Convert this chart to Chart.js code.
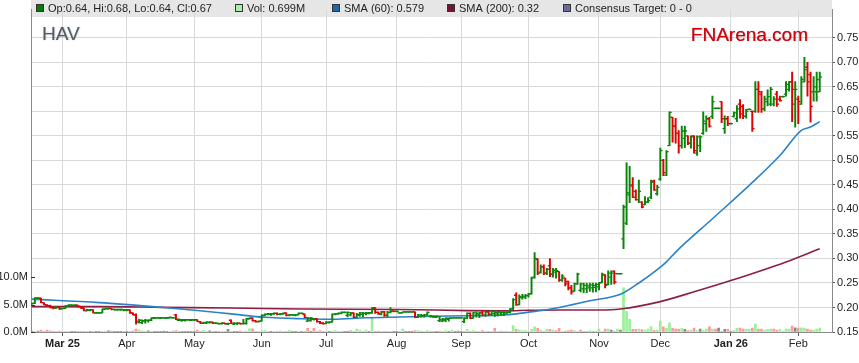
<!DOCTYPE html>
<html><head><meta charset="utf-8">
<script src="https://cdn.jsdelivr.net/npm/chart.js@4.4.1/dist/chart.umd.min.js"></script>
<style>html,body{margin:0;padding:0;background:#fff;}</style>
</head><body>
<canvas id="c" width="859" height="363" style="display:block;width:859px;height:363px"></canvas>
<script>
// ---------- DATA ----------
const ticker = 'HAV';
const firstTradingDay = '2025-02-17';   // bars are consecutive weekdays from here
const monthTickLabels = ['Mar 25','Apr','May','Jun','Jul','Aug','Sep','Oct','Nov','Dec','Jan 26','Feb'];

const opens = [
.208,.209,.219,.219,.210,.205,.204,.200,.199,.201,
.197,.198,.203,.205,.204,.205,.202,.199,.193,.194,
.195,.189,.189,.189,.196,.197,.198,.196,.195,.195,
.195,.194,.195,.189,.185,.170,.169,.172,.173,.174,
.178,.179,.178,.179,.178,.179,.179,.185,.174,.173,
.174,.175,.174,.175,.175,.171,.168,.168,.169,.170,
.168,.167,.167,.168,.166,.174,.166,.167,.168,.167,
.167,.177,.178,.173,.171,.172,.184,.186,.186,.187,
.188,.186,.187,.189,.184,.185,.184,.185,.188,.186,
.172,.173,.176,.177,.171,.168,.167,.169,.170,.186,
.187,.188,.190,.184,.185,.189,.180,.184,.186,.188,
.188,.189,.199,.190,.186,.191,.184,.190,.193,.192,
.189,.189,.191,.191,.191,.191,.180,.182,.183,.185,
.182,.181,.180,.173,.172,.174,.176,.178,.179,.179,
.179,.171,.178,.188,.178,.184,.185,.189,.184,.191,
.186,.188,.187,.189,.186,.189,.190,.197,.225,.206,
.220,.221,.224,.228,.262,.298,.272,.283,.270,.285,
.268,.272,.273,.256,.260,.253,.240,.234,.248,.235,
.238,.238,.240,.240,.241,.242,.251,.266,.247,.262,
.274,.269,.269,.340,.372,.430,.448,.437,.420,.415,
.410,.415,.425,.458,.432,.462,.500,.470,.530,.588,
.570,.555,.530,.545,.550,.535,.550,.515,.530,.555,
.575,.585,.590,.606,.606,.620,.565,.585,.575,.590,
.585,.615,.610,.590,.604,.600,.600,.645,.635,.605,
.620,.615,.615,.635,.625,.630,.635,.645,.660,.615,
.625,.615,.660,.690,.675,.640,.640,.640];
const highs = [
.209,.220,.220,.219,.210,.206,.205,.200,.202,.201,
.199,.204,.206,.206,.206,.205,.202,.199,.196,.196,
.195,.190,.190,.197,.199,.199,.198,.197,.197,.197,
.196,.196,.195,.189,.187,.176,.175,.176,.175,.179,
.180,.180,.180,.180,.180,.181,.180,.186,.177,.176,
.176,.176,.176,.176,.175,.172,.170,.171,.171,.170,
.169,.168,.169,.168,.168,.175,.169,.169,.168,.176,
.178,.179,.179,.174,.173,.185,.187,.188,.188,.189,
.189,.188,.189,.189,.186,.186,.186,.189,.189,.187,
.180,.180,.178,.177,.172,.169,.171,.171,.187,.188,
.189,.191,.191,.191,.190,.189,.188,.190,.190,.190,
.190,.200,.200,.191,.192,.192,.192,.200,.193,.193,
.189,.191,.191,.191,.191,.191,.186,.186,.186,.191,
.184,.183,.183,.182,.178,.179,.179,.179,.179,.179,
.179,.179,.189,.189,.190,.191,.190,.193,.192,.192,
.193,.193,.192,.191,.191,.191,.198,.218,.230,.226,
.227,.227,.229,.262,.312,.300,.287,.287,.280,.300,
.280,.280,.273,.267,.260,.254,.245,.250,.270,.250,
.250,.250,.250,.250,.250,.251,.270,.267,.275,.275,
.275,.269,.269,.409,.495,.488,.465,.440,.460,.416,
.426,.424,.460,.460,.449,.525,.502,.520,.599,.588,
.586,.561,.570,.570,.550,.550,.550,.550,.550,.599,
.591,.588,.631,.607,.607,.620,.591,.590,.576,.599,
.612,.624,.614,.604,.605,.601,.661,.661,.641,.631,
.644,.649,.630,.641,.631,.631,.661,.661,.680,.661,
.631,.671,.710,.700,.680,.671,.680,.680];
const lows = [
.207,.208,.218,.210,.205,.203,.199,.197,.198,.196,
.197,.198,.202,.204,.203,.201,.198,.193,.193,.193,
.189,.188,.188,.189,.196,.196,.195,.194,.194,.194,
.193,.193,.188,.185,.166,.168,.167,.168,.170,.173,
.177,.178,.177,.178,.177,.178,.178,.175,.173,.172,
.172,.174,.173,.173,.171,.167,.167,.167,.168,.167,
.167,.166,.166,.166,.165,.167,.165,.165,.166,.166,
.166,.176,.172,.170,.170,.172,.183,.185,.184,.186,
.185,.185,.186,.183,.183,.184,.183,.185,.187,.179,
.171,.172,.174,.170,.167,.166,.167,.168,.170,.185,
.186,.187,.189,.181,.183,.179,.179,.182,.181,.185,
.187,.188,.188,.186,.185,.182,.181,.189,.191,.191,
.188,.189,.190,.190,.190,.179,.179,.180,.180,.184,
.180,.179,.179,.171,.171,.171,.172,.178,.178,.178,
.178,.169,.177,.177,.178,.180,.179,.183,.182,.184,
.184,.182,.183,.184,.184,.188,.189,.195,.204,.205,
.217,.218,.221,.227,.260,.267,.270,.267,.267,.263,
.262,.260,.253,.253,.244,.236,.227,.233,.247,.232,
.230,.230,.233,.231,.232,.236,.250,.240,.246,.247,
.248,.268,.268,.320,.369,.414,.424,.419,.414,.403,
.409,.414,.422,.439,.429,.459,.469,.469,.530,.537,
.535,.515,.525,.526,.532,.525,.515,.510,.518,.553,
.559,.568,.585,.605,.605,.577,.555,.571,.574,.588,
.579,.586,.585,.586,.603,.559,.598,.598,.598,.601,
.611,.611,.611,.610,.621,.629,.631,.641,.579,.568,
.575,.614,.660,.631,.578,.621,.621,.640];
const closes = [
.208,.219,.219,.210,.206,.204,.200,.199,.201,.197,
.198,.203,.205,.205,.205,.202,.199,.194,.195,.195,
.189,.189,.189,.197,.198,.198,.196,.196,.196,.196,
.195,.195,.189,.185,.172,.174,.173,.174,.174,.179,
.179,.179,.179,.179,.179,.180,.179,.176,.175,.175,
.175,.175,.175,.175,.171,.168,.169,.170,.170,.168,
.168,.167,.168,.167,.167,.168,.168,.168,.167,.168,
.177,.178,.173,.171,.172,.184,.186,.187,.187,.188,
.186,.187,.188,.184,.185,.185,.185,.188,.188,.180,
.178,.178,.177,.171,.168,.167,.170,.170,.186,.187,
.188,.190,.190,.190,.188,.180,.186,.189,.188,.189,
.189,.199,.190,.188,.191,.184,.190,.192,.192,.192,
.189,.191,.191,.191,.191,.180,.185,.184,.185,.190,
.183,.182,.182,.175,.176,.178,.178,.179,.179,.179,
.179,.178,.188,.178,.189,.188,.189,.184,.191,.186,
.192,.190,.191,.190,.189,.190,.197,.216,.206,.222,
.223,.224,.228,.260,.300,.270,.283,.270,.278,.268,
.276,.275,.256,.264,.248,.240,.232,.248,.268,.248,
.245,.244,.246,.245,.247,.250,.268,.245,.270,.270,
.252,.269,.269,.405,.434,.450,.425,.420,.437,.405,
.415,.418,.455,.440,.445,.520,.475,.518,.598,.570,
.555,.530,.560,.560,.535,.548,.520,.548,.548,.580,
.585,.570,.620,.606,.606,.585,.585,.575,.575,.597,
.605,.595,.590,.600,.604,.565,.645,.640,.605,.625,
.630,.645,.625,.615,.622,.630,.655,.660,.645,.645,
.620,.665,.685,.660,.610,.650,.665,.670];
const volumesM = [
.15,.10,.18,.36,.10,.36,.20,.10,.08,.18,
.10,.12,.08,.10,.06,.10,.12,.10,.08,.06,
.10,.08,.06,.12,.18,.20,.18,.08,.10,.06,
.08,.10,.12,.20,.54,.40,.15,.12,.20,.10,
.08,.10,.06,.18,.10,.08,.18,.25,.10,.08,
.06,.10,.08,.10,.36,.12,.30,.08,.20,.10,
.08,.06,.10,.12,.48,.15,.10,.08,.20,.10,
.15,.60,.60,.12,.10,.20,.25,.10,.12,.08,
.10,.20,.10,.08,.30,.10,.08,.18,.10,.10,
.65,.10,.65,.10,.24,.10,.08,.10,.18,.24,
.10,.08,.12,.10,.24,.10,.54,.36,.10,.36,
.10,2.60,.10,.18,.08,.10,.18,.12,.10,.08,
.10,.54,.10,.08,.10,.24,.24,.10,.08,.24,
.10,.08,.10,.18,.10,.24,.10,.36,.10,.18,
.08,.10,.48,.10,.24,.10,.10,.24,.10,.08,
.10,.65,.10,.18,.10,.18,.10,1.19,.48,.36,
.24,.24,.10,.48,.95,.65,.36,.10,.48,.48,
.36,.24,.65,.10,.18,.24,.36,.24,.10,.36,
.10,.10,.24,.10,.18,.54,.10,.54,.54,.36,
.10,.54,.36,8.10,3.80,2.30,.50,.50,.54,.42,
.36,.54,.95,.30,.36,2.00,.95,.65,1.66,.65,
.54,.54,.65,.48,.24,.36,.71,.24,.54,.24,
.54,.95,.54,.54,.71,.10,.48,.48,.05,.24,
.65,.71,.54,.48,.48,.71,1.43,.54,.54,.36,
.48,.54,.54,.36,.48,.10,.54,.54,1.07,.77,
.71,.77,.71,.54,.36,.36,.54,.699];
// SMA lines read at sample bars (bar index -> value)
const sma60Bars = [0,22,43,54,65,76,88,98,109,120,131,142,153,158,164,172,182,192,198,204,207,210,222,234,244,251,254,257];
const sma60Vals = [.217,.210,.200,.194,.187,.180,.177,.176,.179,.1805,.182,.183,.1845,.187,.192,.200,.2137,.227,.250,.277,.293,.313,.381,.449,.510,.5614,.568,.579];
const sma200Bars = [0,22,43,65,88,120,142,155,162,172,185,192,205,216,228,246,257];
const sma200Vals = [.2017,.2017,.2003,.199,.197,.196,.1937,.193,.1945,.195,.195,.197,.212,.232,.255,.293,.320];

// ---------- DERIVED ----------
const FONT = '"Liberation Sans", Arial, Helvetica, sans-serif';
const dates = [];
{ const d = new Date(firstTradingDay + 'T00:00:00Z');
  while (dates.length < opens.length) { const w = d.getUTCDay(); if (w !== 0 && w !== 6) dates.push(new Date(d)); d.setUTCDate(d.getUTCDate() + 1); } }
const monthTickIdx = [];
for (let i = 1; i < dates.length; i++) if (dates[i].getUTCMonth() !== dates[i-1].getUTCMonth()) monthTickIdx.push(i);

const UP = '#0a850a', DOWN = '#e00000';
const barCol = opens.map((o,i) => closes[i] >= o ? UP : DOWN);
const volCol = closes.map((c,i) => i === 0 ? '#999999' : (c > closes[i-1] ? '#99f099' : (c < closes[i-1] ? '#ff9a9a' : '#8a8a8a')));
const last = opens.length - 1;

const overlay = {
  id: 'overlay',
  beforeDraw(chart) {
    const ctx = chart.ctx, a = chart.chartArea;
    ctx.save(); ctx.fillStyle = '#e6e6e6'; ctx.fillRect(a.left, 0, a.right - a.left, 17); ctx.restore();
  },
  afterDatasetsDraw(chart) {
    const ctx = chart.ctx, xs = chart.scales.x, ys = chart.scales.yPrice, a = chart.chartArea;
    ctx.save();
    ctx.beginPath(); ctx.rect(a.left, a.top, a.right - a.left, a.bottom - a.top); ctx.clip();
    ctx.lineWidth = 1.3;
    for (let i = 0; i < opens.length; i++) {
      const px = xs.getPixelForValue(i);
      const yo = ys.getPixelForValue(opens[i]), yc = ys.getPixelForValue(closes[i]);
      ctx.strokeStyle = barCol[i];
      ctx.beginPath(); ctx.moveTo(px - 2.2, yo); ctx.lineTo(px, yo); ctx.moveTo(px, yc); ctx.lineTo(px + 2.2, yc); ctx.stroke();
    }
    ctx.restore();
  },
  afterDraw(chart) {
    const ctx = chart.ctx, a = chart.chartArea, yv = chart.scales.yVol;
    ctx.save();
    // inside ticks of volume axis
    ctx.strokeStyle = '#333'; ctx.lineWidth = 1;
    [0,5,10].forEach(v => { const y = Math.round(yv.getPixelForValue(v)) + 0.5; ctx.beginPath(); ctx.moveTo(a.left, y); ctx.lineTo(a.left + 4, y); ctx.stroke(); });
    // legend strip
    ctx.font = '11px ' + FONT; ctx.textBaseline = 'middle'; ctx.fillStyle = '#222';
    const items = [
      [36, '#0b7a0b', 'Op:' + opens[last].toFixed(2) + ', Hi:' + highs[last].toFixed(2) + ', Lo:' + lows[last].toFixed(2) + ', Cl:' + closes[last].toFixed(2)],
      [235, '#a8f0a8', 'Vol: ' + volumesM[last].toFixed(3) + 'M'],
      [332, '#1f67a8', 'SMA (60): ' + sma60Vals[sma60Vals.length-1].toFixed(3)],
      [447, '#7a1232', 'SMA (200): ' + sma200Vals[sma200Vals.length-1].toFixed(2)],
      [563, '#6a6a9c', 'Consensus Target: 0 - 0']
    ];
    items.forEach(([x, c, t]) => {
      ctx.fillStyle = c; ctx.fillRect(x, 4, 8, 8);
      ctx.strokeStyle = '#333'; ctx.lineWidth = 1; ctx.strokeRect(x + 0.5, 4.5, 7, 7);
      ctx.fillStyle = '#222'; ctx.fillText(t, x + 12, 9);
    });
    // ticker
    ctx.textBaseline = 'alphabetic';
    ctx.font = '19px ' + FONT;
    ctx.shadowColor = 'rgba(40,90,160,0.45)'; ctx.shadowBlur = 1.5; ctx.shadowOffsetX = 0.5;
    ctx.fillStyle = '#5a5a5a'; ctx.fillText(ticker, 42, 40);
    // brand
    ctx.shadowColor = 'rgba(60,0,80,0.5)'; ctx.shadowBlur = 1;
    ctx.font = '19px ' + FONT; ctx.fillStyle = '#d20000'; ctx.textAlign = 'right';
    ctx.fillText('FNArena.com', 808, 41);
    ctx.restore();
  }
};

new Chart(document.getElementById('c'), {
  type: 'bar',
  data: {
    datasets: [
      { label: 'Price', data: opens.map((o,i) => ({x: i, y: [lows[i], highs[i]]})), yAxisID: 'yPrice',
        backgroundColor: barCol, borderWidth: 0, barThickness: 1.3, grouped: false, order: 1 },
      { type: 'line', label: 'SMA60', data: sma60Bars.map((b,i) => ({x: b, y: sma60Vals[i]})), yAxisID: 'yPrice',
        borderColor: '#2a82c8', borderWidth: 1.6, pointRadius: 0, cubicInterpolationMode: 'monotone', order: 2 },
      { type: 'line', label: 'SMA200', data: sma200Bars.map((b,i) => ({x: b, y: sma200Vals[i]})), yAxisID: 'yPrice',
        borderColor: '#8c1f46', borderWidth: 1.6, pointRadius: 0, cubicInterpolationMode: 'monotone', order: 3 },
      { label: 'Volume', data: volumesM.map((v,i) => ({x: i, y: v})), yAxisID: 'yVol',
        backgroundColor: volCol, borderWidth: 0, barThickness: 2, grouped: false, order: 4 }
    ]
  },
  options: {
    responsive: false, animation: false, devicePixelRatio: 1,
    layout: { padding: { top: 1, left: 0, right: 0, bottom: 0 } },
    plugins: { legend: { display: false }, tooltip: { enabled: false } },
    scales: {
      x: {
        type: 'linear', min: -0.26, max: 261, offset: false,
        afterBuildTicks: s => { s.ticks = monthTickIdx.map(v => ({ value: v })); },
        afterFit: s => { s.height = 31; },
        grid: { color: '#d9d9d9', lineWidth: 1, tickLength: 4, tickColor: '#555', offset: false },
        border: { color: '#8a8a8a' },
        ticks: {
          autoSkip: false, maxRotation: 0, padding: 1, color: '#222',
          callback: (v) => { const k = monthTickIdx.indexOf(v); return k >= 0 ? monthTickLabels[k] : ''; },
          font: (ctx) => ({ family: FONT, size: 11, weight: (ctx.tick && /\d/.test(ctx.tick.label)) ? 'bold' : 'normal' })
        }
      },
      yVol: {
        type: 'linear', position: 'left', min: 0, max: 59,
        afterBuildTicks: s => { s.ticks = [0,5,10].map(v => ({ value: v })); },
        afterFit: s => { s.width = 31; },
        grid: { drawOnChartArea: false, drawTicks: false },
        border: { color: '#8a8a8a' },
        ticks: { padding: 3, color: '#222', font: { family: FONT, size: 11 }, callback: v => v.toFixed(1) + 'M' }
      },
      yPrice: {
        type: 'linear', position: 'right', min: 0.15, max: 0.8076,
        afterBuildTicks: s => { const t = []; for (let v = 0.15; v <= 0.7501; v += 0.05) t.push({ value: Math.round(v*100)/100 }); s.ticks = t; },
        afterFit: s => { s.width = 27; },
        grid: { color: '#d9d9d9', lineWidth: 1, tickLength: 3, tickColor: '#555' },
        border: { color: '#8a8a8a' },
        ticks: { padding: 2, color: '#222', font: { family: FONT, size: 11 }, callback: v => v.toFixed(2) }
      }
    }
  },
  plugins: [overlay]
});
</script>
</body></html>
